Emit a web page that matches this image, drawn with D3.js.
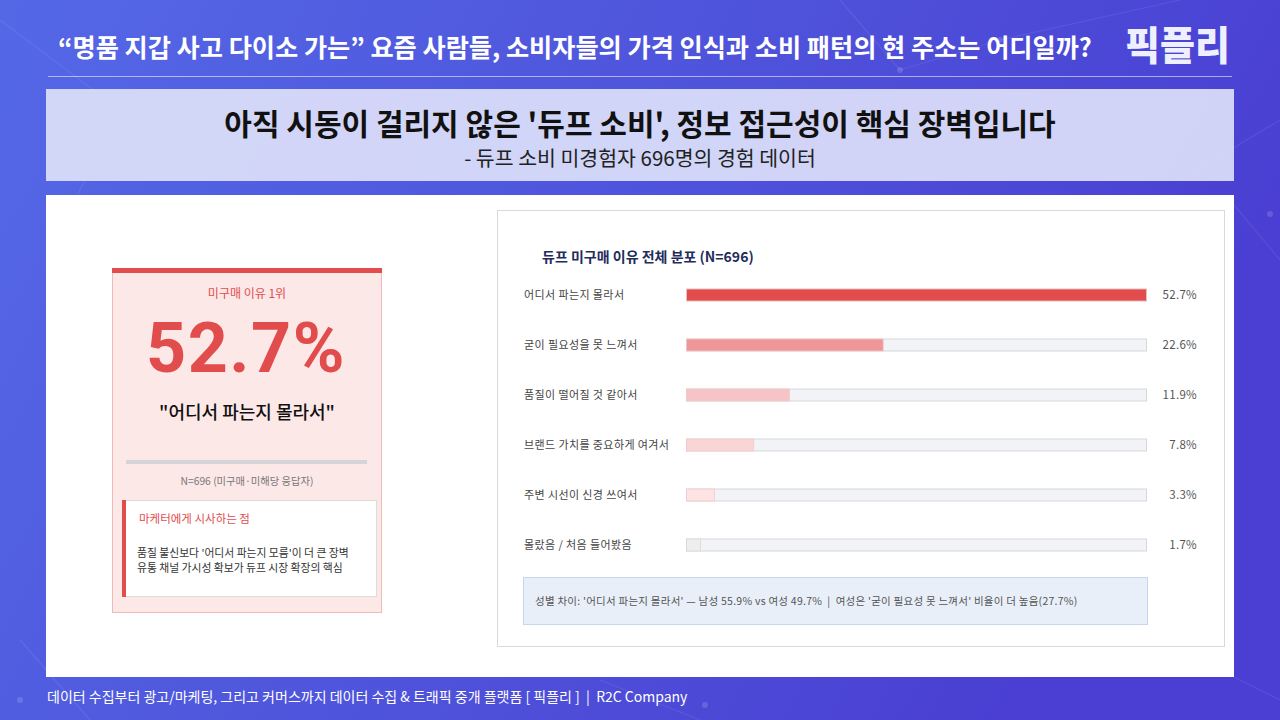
<!DOCTYPE html>
<html><head><meta charset="utf-8">
<script src="https://cdn.jsdelivr.net/npm/d3@7"></script>
<style>
body{margin:0;background:#4a4fd8;}
svg{display:block;font-family:"Noto Sans CJK KR","Noto Sans",sans-serif;}
</style>
</head><body>
<svg id="c" width="1280" height="720"></svg>
<script>
// ---- data ----
const headerTitle = "“명품 지갑 사고 다이소 가는” 요즘 사람들, 소비자들의 가격 인식과 소비 패턴의 현 주소는 어디일까?";
const logoText = "픽플리";
const mainTitle = "아직 시동이 걸리지 않은 '듀프 소비', 정보 접근성이 핵심 장벽입니다";
const subTitle = "- 듀프 소비 미경험자 696명의 경험 데이터";
const categories = ["어디서 파는지 몰라서","굳이 필요성을 못 느껴서","품질이 떨어질 것 같아서","브랜드 가치를 중요하게 여겨서","주변 시선이 신경 쓰여서","몰랐음 / 처음 들어봤음"];
const values = [52.7, 22.6, 11.9, 7.8, 3.3, 1.7];
const barColors = ["#e14d4d","#ee9698","#f6c3c6","#f9d5d6","#fde3e3","#eeeeee"];
const chartTitle = "듀프 미구매 이유 전체 분포 (N=696)";
const noteText = "성별 차이: '어디서 파는지 몰라서' — 남성 55.9% vs 여성 49.7%  |  여성은 '굳이 필요성 못 느껴서' 비율이 더 높음(27.7%)";
const cardLabel = "미구매 이유 1위";
const cardValue = 52.7;
const cardQuote = "\"어디서 파는지 몰라서\"";
const cardN = "N=696 (미구매·미해당 응답자)";
const insightTitle = "마케터에게 시사하는 점";
const insightLines = ["품질 불신보다 '어디서 파는지 모름'이 더 큰 장벽","유통 채널 가시성 확보가 듀프 시장 확장의 핵심"];
const footerText = "데이터 수집부터 광고/마케팅, 그리고 커머스까지 데이터 수집 & 트래픽 중개 플랫폼 [ 픽플리 ]  |  R2C Company";

const svg = d3.select("#c");
const defs = svg.append("defs");
const bg = defs.append("linearGradient").attr("id","bg").attr("x1","0").attr("y1","0").attr("x2","1").attr("y2","0.3");
bg.append("stop").attr("offset","0").attr("stop-color","#5468e6");
bg.append("stop").attr("offset","0.5").attr("stop-color","#4f55dc");
bg.append("stop").attr("offset","1").attr("stop-color","#4a3fd2");
svg.append("rect").attr("width",1280).attr("height",720).attr("fill","url(#bg)");

// faint network decoration
const net = svg.append("g").attr("stroke","#ffffff").attr("stroke-opacity",0.08).attr("stroke-width",1.2).attr("fill","none");
const segs = [[0,20,120,110],[120,110,60,230],[840,0,900,70],[900,70,1000,40],[1000,40,1180,0],[1180,180,1280,120],[1230,200,1280,260],[20,640,90,720],[600,680,700,720],[1180,650,1280,700]];
net.selectAll("line").data(segs).join("line")
  .attr("x1",d=>d[0]).attr("y1",d=>d[1]).attr("x2",d=>d[2]).attr("y2",d=>d[3]);
svg.append("g").attr("fill","#ffffff").attr("fill-opacity",0.15)
  .selectAll("circle").data([[120,110],[900,70],[1000,40],[1270,214],[20,700],[705,705]]).join("circle")
  .attr("cx",d=>d[0]).attr("cy",d=>d[1]).attr("r",3);

// header
svg.append("text").attr("x",58).attr("y",57).attr("fill","#fff").attr("font-size",25.2).attr("font-weight",700)
  .text(headerTitle);
svg.append("line").attr("x1",48).attr("x2",1232).attr("y1",76.5).attr("y2",76.5).attr("stroke","#fff").attr("stroke-opacity",0.55);
svg.append("text").attr("x",1125).attr("y",60).attr("fill","#eef0ff").attr("font-size",40).attr("font-weight",900)
  .attr("textLength",105).attr("lengthAdjust","spacingAndGlyphs").text(logoText);

// subtitle panel
svg.append("rect").attr("x",46).attr("y",89).attr("width",1188).attr("height",92).attr("fill","#dcdff9").attr("fill-opacity",0.93);
svg.append("text").attr("x",640).attr("y",135).attr("text-anchor","middle").attr("font-size",30).attr("font-weight",700).attr("fill","#111").text(mainTitle);
svg.append("text").attr("x",640).attr("y",166).attr("text-anchor","middle").attr("font-size",20.5).attr("fill","#222").text(subTitle);

// white main panel
svg.append("rect").attr("x",46).attr("y",195).attr("width",1188).attr("height",482).attr("fill","#fff");

// left card
const card = svg.append("g");
card.append("rect").attr("x",112.5).attr("y",268.5).attr("width",269).attr("height",344).attr("fill","#fde8e8").attr("stroke","#f1b9b9");
card.append("rect").attr("x",112).attr("y",268).attr("width",270).attr("height",5).attr("fill","#e14d4d");
card.append("text").attr("x",247).attr("y",298).attr("text-anchor","middle").attr("font-size",12).attr("fill","#e14d4d").text(cardLabel);
card.append("text").attr("x",246).attr("y",372).attr("text-anchor","middle").attr("font-size",70).attr("font-weight",700)
  .attr("letter-spacing",1.5)
  .attr("fill","#e14d4d").attr("font-family","Roboto, 'Noto Sans', sans-serif").text(d3.format(".1f")(cardValue)+"%");
card.append("text").attr("x",247).attr("y",419).attr("text-anchor","middle").attr("font-size",18).attr("font-weight",500).attr("fill","#111").text(cardQuote);
card.append("rect").attr("x",126).attr("y",460).attr("width",241).attr("height",4).attr("fill","#d5d5d8");
card.append("text").attr("x",247).attr("y",485).attr("text-anchor","middle").attr("font-size",10.3).attr("fill","#777").text(cardN);
card.append("rect").attr("x",122.5).attr("y",500.5).attr("width",254).attr("height",96).attr("fill","#fff").attr("stroke","#dcdcdc");
card.append("rect").attr("x",122).attr("y",500).attr("width",4).attr("height",97).attr("fill","#e14d4d");
card.append("text").attr("x",139).attr("y",523).attr("font-size",11.5).attr("fill","#e14d4d").text(insightTitle);
card.selectAll("text.ins").data(insightLines).join("text").attr("class","ins")
  .attr("x",137).attr("y",(d,i)=>557+i*15).attr("font-size",10.8).attr("fill","#333").text(d=>d);

// right chart panel
const panel = svg.append("g");
panel.append("rect").attr("x",497.5).attr("y",210.5).attr("width",727).attr("height",436).attr("fill","#fff").attr("stroke","#d9d9d9");
panel.append("text").attr("x",542).attr("y",262).attr("font-size",14).attr("font-weight",700).attr("fill","#1f2d5c").text(chartTitle);

const x = d3.scaleLinear().domain([0, d3.max(values)]).range([686, 1147]);
const y = d3.scaleBand().domain(categories).range([270, 570]).paddingInner(0.74).paddingOuter(0.37);
const rows = panel.selectAll("g.row").data(categories.map((c,i)=>({c, v:values[i], col:barColors[i]}))).join("g").attr("class","row");
rows.append("rect").attr("x",x(0)+0.5).attr("y",d=>y(d.c)+0.5).attr("width",x.range()[1]-x(0)-1).attr("height",y.bandwidth()-1)
  .attr("fill","#f1f3f6").attr("stroke","#d5d7db");
rows.append("rect").attr("x",x(0)+0.5).attr("y",d=>y(d.c)+0.5).attr("width",d=>x(d.v)-x(0)-1).attr("height",y.bandwidth()-1)
  .attr("fill",d=>d.col).attr("stroke",d=>d.col==="#eeeeee"?"#d5d7db":"#f3c9c9").attr("stroke-width",0.8);
rows.append("text").attr("x",524).attr("y",d=>y(d.c)+y.bandwidth()/2).attr("dy","0.35em").attr("font-size",11).attr("letter-spacing",0.4).attr("fill","#444").text(d=>d.c);
rows.append("text").attr("x",1197).attr("y",d=>y(d.c)+y.bandwidth()/2).attr("dy","0.35em").attr("text-anchor","end")
  .attr("font-size",11.5).attr("letter-spacing",0.3).attr("fill","#555").text(d=>d3.format(".1f")(d.v)+"%");

// note box
panel.append("rect").attr("x",523.5).attr("y",577.5).attr("width",624).attr("height",47).attr("fill","#e8eff9").attr("stroke","#c9d5ea");
panel.append("text").attr("x",535).attr("y",601).attr("dy","0.35em").attr("font-size",10.5).attr("letter-spacing",0.25).attr("fill","#555").attr("xml:space","preserve").text(noteText);

// footer
svg.append("text").attr("x",47).attr("y",702).attr("font-size",14).attr("fill","#fff").attr("xml:space","preserve").text(footerText);
</script>
</body></html>
